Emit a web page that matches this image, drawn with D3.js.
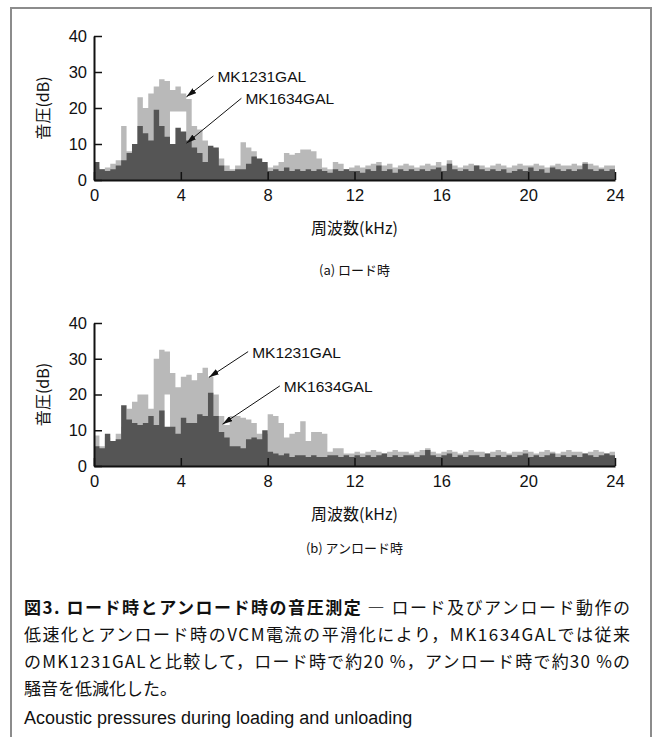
<!DOCTYPE html>
<html>
<head>
<meta charset="utf-8">
<script src="https://cdn.jsdelivr.net/npm/d3@7/dist/d3.min.js"></script>
<style>
  body { margin: 0; background: #fff; }
</style>
</head>
<body>
<div id="chart"></div>
<script>
// spectrum bins, 0.25 kHz wide, 0..24 kHz
const freqStep = 0.25;
const xTicks = [0, 4, 8, 12, 16, 20, 24];
const yTicks = [0, 10, 20, 30, 40];

// (a) loading
const loadMk1231 = [3.5, 3, 3.5, 4.5, 5.5, 15, 8, 9, 23, 20, 24, 26, 28, 27.5, 25, 26, 24, 22.5, 15, 14, 11, 9, 8, 6,
  4, 3, 4, 10.5, 9, 8, 5, 4, 3.5, 4, 5, 7.5, 7, 7.5, 8.5, 8.5, 8, 6, 3.5, 3, 5, 4.5, 3, 3.5,
  4, 3.5, 4, 4.5, 5, 4, 4.5, 3.5, 4, 4.5, 4, 3.5, 4, 4.5, 4, 5, 4, 5.5, 4, 3.5, 4, 4.5, 4, 4,
  3.5, 4, 4.5, 4, 3.5, 4, 4.5, 4, 4, 4.5, 4, 3.5, 4, 4.5, 4, 4, 4.5, 4, 5, 4.5, 4, 3.5, 4, 4];
const loadMk1231Gaps = [{ from: 3.5, to: 4.25, lo: 19 }];
const loadMk1634 = [5, 3, 2.5, 3, 4, 5.5, 7.5, 10, 15, 13, 11, 19.5, 15, 12, 10, 14.5, 13.5, 11, 9, 7.5, 5, 9.5, 9, 4,
  2.5, 2.5, 3, 3, 4.5, 6.5, 6, 5, 2.5, 3, 2.5, 3.5, 2.5, 3, 2.5, 3, 2.5, 3, 2.5, 2, 3, 2.5, 3, 2.5,
  2.5, 2, 3, 2.5, 4, 2.5, 3, 2, 3, 2.5, 3, 2.5, 3, 2.5, 3, 3.5, 2.5, 4.5, 3, 2.5, 3, 2.5, 4, 3,
  2.5, 3, 2.5, 3, 2, 2.5, 3, 2.5, 3.5, 2.5, 3, 2, 3.5, 3, 2.5, 3, 2.5, 3, 4.5, 3, 2.5, 3, 2.5, 3];

// (b) unloading
const unloadMk1231 = [8.5, 5.5, 8, 7, 9, 11, 16, 18, 20, 20, 16, 30, 32.5, 32, 26, 22, 25, 25.5, 24, 26, 27.5, 25, 20, 14,
  11.5, 14, 14, 13.5, 13, 12, 9, 9, 14.5, 14, 12, 8, 9, 9.5, 12.5, 7, 9.5, 9.5, 9, 4, 5, 5, 3.5, 3.5,
  4, 3.5, 4, 4.5, 4, 3.5, 4, 4.5, 4, 4, 3.5, 4, 4.5, 5, 4, 3.5, 4, 4.5, 4, 3.5, 4, 4.5, 4, 4,
  3.5, 4, 4.5, 4, 3.5, 4, 4, 4.5, 4, 3.5, 4, 4.5, 4, 3.5, 4, 4.5, 4, 4, 3.5, 4, 4.5, 4, 3.5, 4];
const unloadMk1231Gaps = [{ from: 3.25, to: 3.5, lo: 20 }];
const unloadMk1634 = [5.5, 5, 9, 7, 7.5, 17, 13, 12, 11.5, 12, 14, 11.5, 15.5, 11, 11, 9, 13.5, 12, 12, 14.5, 14, 20.5, 14, 9.5,
  8, 5.5, 5.5, 5, 7.5, 8, 7.5, 10, 4, 3.5, 3, 3.5, 2.5, 3, 3, 2.5, 3, 2.5, 2.5, 3, 3, 2.5, 3, 2.5,
  3, 2.5, 3, 2.5, 3, 3.5, 2.5, 3, 2.5, 3, 3, 2.5, 3, 4.5, 3, 2.5, 3, 3.5, 2.5, 3, 2.5, 3, 3, 2.5,
  3.5, 2.5, 3, 2.5, 3, 2.5, 3, 3.5, 2.5, 3, 2.5, 3, 3.5, 2.5, 3, 2.5, 3, 2.5, 3.5, 3, 2.5, 3, 3.5, 3];

// arrow annotations: tail / tip in [kHz, dB]
const loadNotes = [
  { name: 'MK1231GAL', tail: [5.5, 28.9], tip: [4.26, 23.1] },
  { name: 'MK1634GAL', tail: [6.79, 22.7], tip: [4.26, 10.2] }
];
const unloadNotes = [
  { name: 'MK1231GAL', tail: [7.1, 32], tip: [5.3, 24.8] },
  { name: 'MK1634GAL', tail: [8.56, 22.4], tip: [5.92, 11.7] }
];

const captionTitle = '図3.  ロード時とアンロード時の音圧測定';
const captionLines = [
  ' ― ロード及びアンロード動作の',
  '低速化とアンロード時のVCM電流の平滑化により，MK1634GALでは従来',
  'のMK1231GALと比較して，ロード時で約20 %，アンロード時で約30 %の',
  '騒音を低減化した。'
];
const captionEn = 'Acoustic pressures during loading and unloading';

const width = 657, height = 737;
const lightColor = '#b9b9b9', darkColor = '#555555';
const jp = '"Noto Sans CJK JP", sans-serif';
const latin = '"Liberation Sans", Arial, sans-serif';

const svg = d3.select('#chart').append('svg')
  .attr('width', width)
  .attr('height', height)
  .attr('viewBox', `0 0 ${width} ${height}`);

svg.append('defs').append('marker')
  .attr('id', 'head')
  .attr('viewBox', '0 0 10 6')
  .attr('refX', 10).attr('refY', 3)
  .attr('markerWidth', 10).attr('markerHeight', 6)
  .attr('markerUnits', 'userSpaceOnUse')
  .attr('orient', 'auto')
  .append('path').attr('d', 'M0,0L10,3L0,6Z').attr('fill', '#111');

// frame
svg.append('path')
  .attr('d', `M11,${height}V8H651V${height}`)
  .attr('fill', 'none')
  .attr('stroke', '#8c8c8c')
  .attr('stroke-width', 2);

const x = d3.scaleLinear().domain([0, 24]).range([94, 615]);

function toPoints(vals, gaps) {
  const pts = vals.map((v, i) => {
    const f = i * freqStep;
    const gap = (gaps || []).find(g => f >= g.from && f < g.to);
    return { f, hi: v, lo: gap ? gap.lo : 0 };
  });
  pts.push({ f: 24, hi: vals[vals.length - 1], lo: 0 });
  return pts;
}

function drawPanel(opts) {
  const { top, bottom, light, lightGaps, dark, notes, titleY, labelY, label } = opts;
  const y = d3.scaleLinear().domain([0, 40]).range([bottom, top]);
  const g = svg.append('g');

  const area = d3.area()
    .curve(d3.curveStepAfter)
    .x(d => x(d.f))
    .y0(d => y(d.lo))
    .y1(d => y(d.hi));

  g.append('path').attr('d', area(toPoints(light, lightGaps))).attr('fill', lightColor);
  g.append('path').attr('d', area(toPoints(dark))).attr('fill', darkColor);

  const xAxis = g.append('g')
    .attr('transform', `translate(0,${bottom})`)
    .call(d3.axisBottom(x).tickValues(xTicks).tickSize(-8).tickSizeOuter(0).tickPadding(9));
  const yAxis = g.append('g')
    .attr('transform', `translate(${x(0)},0)`)
    .call(d3.axisLeft(y).tickValues(yTicks).tickSize(-8).tickSizeOuter(0).tickPadding(7));

  [xAxis, yAxis].forEach(a => {
    a.attr('font-size', 16.5).attr('font-family', latin);
    a.select('.domain').attr('stroke', '#111').attr('stroke-width', 2);
    a.selectAll('.tick line').attr('stroke', '#111').attr('stroke-width', 1.5);
    a.selectAll('.tick text').attr('fill', '#111');
  });

  g.append('text')
    .attr('transform', `translate(42,${(top + bottom) / 2}) rotate(-90)`)
    .attr('text-anchor', 'middle')
    .attr('dominant-baseline', 'central')
    .attr('font-family', jp)
    .attr('font-size', 16)
    .attr('fill', '#111')
    .text('音圧(dB)');

  g.append('text')
    .attr('x', (x(0) + x(24)) / 2)
    .attr('y', titleY)
    .attr('text-anchor', 'middle')
    .attr('font-family', jp)
    .attr('font-size', 16)
    .attr('fill', '#111')
    .text('周波数(kHz)');

  g.append('text')
    .attr('x', (x(0) + x(24)) / 2)
    .attr('y', labelY)
    .attr('text-anchor', 'middle')
    .attr('font-family', jp)
    .attr('font-size', 13)
    .attr('fill', '#111')
    .text(label);

  notes.forEach(n => {
    g.append('line')
      .attr('x1', x(n.tail[0])).attr('y1', y(n.tail[1]))
      .attr('x2', x(n.tip[0])).attr('y2', y(n.tip[1]))
      .attr('stroke', '#111')
      .attr('stroke-width', 1)
      .attr('marker-end', 'url(#head)');
    g.append('text')
      .attr('x', x(n.tail[0]) + 4)
      .attr('y', y(n.tail[1]) + 6)
      .attr('font-family', latin)
      .attr('font-size', 15.5)
      .attr('fill', '#111')
      .text(n.name);
  });
}

drawPanel({
  top: 36, bottom: 180,
  light: loadMk1231, lightGaps: loadMk1231Gaps, dark: loadMk1634,
  notes: loadNotes, titleY: 234, labelY: 275, label: '(a) ロード時'
});
drawPanel({
  top: 323, bottom: 466,
  light: unloadMk1231, lightGaps: unloadMk1231Gaps, dark: unloadMk1634,
  notes: unloadNotes, titleY: 520, labelY: 553, label: '(b) アンロード時'
});

// caption
const capX = 24, capW = 606;
const cap = svg.append('g').attr('font-family', jp).attr('fill', '#111');
const first = cap.append('text')
  .attr('x', capX).attr('y', 614)
  .attr('font-size', 17)
  .attr('textLength', capW)
  .attr('lengthAdjust', 'spacing');
first.append('tspan').attr('font-weight', 700).text(captionTitle);
first.append('tspan').text(captionLines[0]);

captionLines.slice(1).forEach((line, i) => {
  const t = cap.append('text')
    .attr('x', capX).attr('y', 641 + i * 27)
    .attr('font-size', 17)
    .text(line);
  if (i < 2) t.attr('textLength', capW).attr('lengthAdjust', 'spacing');
});

cap.append('text')
  .attr('x', capX).attr('y', 724)
  .attr('font-family', '"Liberation Sans Narrow", "Liberation Sans", sans-serif')
  .attr('font-size', 18)
  .text(captionEn);
</script>
</body>
</html>
